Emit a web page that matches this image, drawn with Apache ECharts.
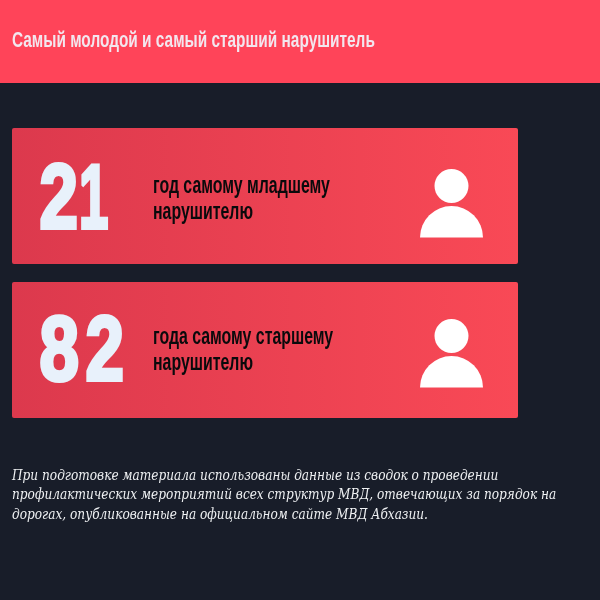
<!DOCTYPE html>
<html><head><meta charset="utf-8">
<style>html,body{margin:0;padding:0;background:#181d29}#c{width:600px;height:600px}</style>
<script src="https://cdn.jsdelivr.net/npm/echarts@6/dist/echarts.min.js"></script>
</head><body><div id="c"></div>
<script>
const titleText = 'Самый молодой и самый старший нарушитель';
const ages = [21, 82];
const captions = [['год самому младшему','нарушителю'],['года самому старшему','нарушителю']];
const noteLines = [
 'При подготовке материала использованы данные из сводок о проведении',
 'профилактических мероприятий всех структур МВД, отвечающих за порядок на',
 'дорогах, опубликованные на официальном сайте МВД Абхазии.'
];
const chart = echarts.init(document.getElementById('c'), null, {renderer:'canvas'});
const NARROW = '"Liberation Sans Narrow","Liberation Sans",sans-serif';
const els = [];
els.push({type:'rect',shape:{x:0,y:0,width:600,height:83},style:{fill:'#ff4459'}});
els.push({type:'text',x:12,y:41,scaleX:0.70,style:{text:titleText,fill:'#f3e6ee',font:'bold 22px '+NARROW,textVerticalAlign:'middle'}});
const tops=[128,282];
const digitX=[[39.5,79],[39.5,85.5]], digitScale=[[0.76,0.58],[0.78,0.76]], numDy=[75,72.5], capDy=[59,55.5], iconDy=[0,-4];
ages.forEach((a,i)=>{
  const t=tops[i];
  els.push({type:'rect',shape:{x:12,y:t,width:506,height:136,r:2},style:{fill:new echarts.graphic.LinearGradient(0,0,1,0,[{offset:0,color:'#dc394d'},{offset:1,color:'#f94956'}])}});
  String(a).split('').forEach((d,k)=>{
    els.push({type:'text',x:digitX[i][k],y:t+numDy[i],scaleX:digitScale[i][k],style:{text:d,fill:'#e8f1fb',font:'bold 91px "Liberation Sans",sans-serif',textVerticalAlign:'middle',stroke:'#e8f1fb',lineWidth:4}});
  });
  captions[i].forEach((c,j)=>{
    els.push({type:'text',x:153,y:t+capDy[i]+j*26,scaleX:0.69,style:{text:c,fill:'#0a0a0c',font:'bold 23px '+NARROW,textVerticalAlign:'middle'}});
  });
  const cx=451.5, dy=iconDy[i];
  els.push({type:'circle',shape:{cx:cx,cy:t+58+dy,r:17},style:{fill:'#fff'}});
  els.push({type:'sector',shape:{cx:cx,cy:t+109.5+dy,r0:0,r:31.5,startAngle:Math.PI,endAngle:Math.PI*2},style:{fill:'#fff'}});
});
noteLines.forEach((l,i)=>{
  els.push({type:'text',x:12,y:476+i*19.5,scaleX:0.867,style:{text:l,fill:'#eef0f2',font:'italic 14px "DejaVu Serif",serif',textVerticalAlign:'middle'}});
});
chart.setOption({backgroundColor:'#181d29',animation:false,graphic:{elements:els}});
</script></body></html>
